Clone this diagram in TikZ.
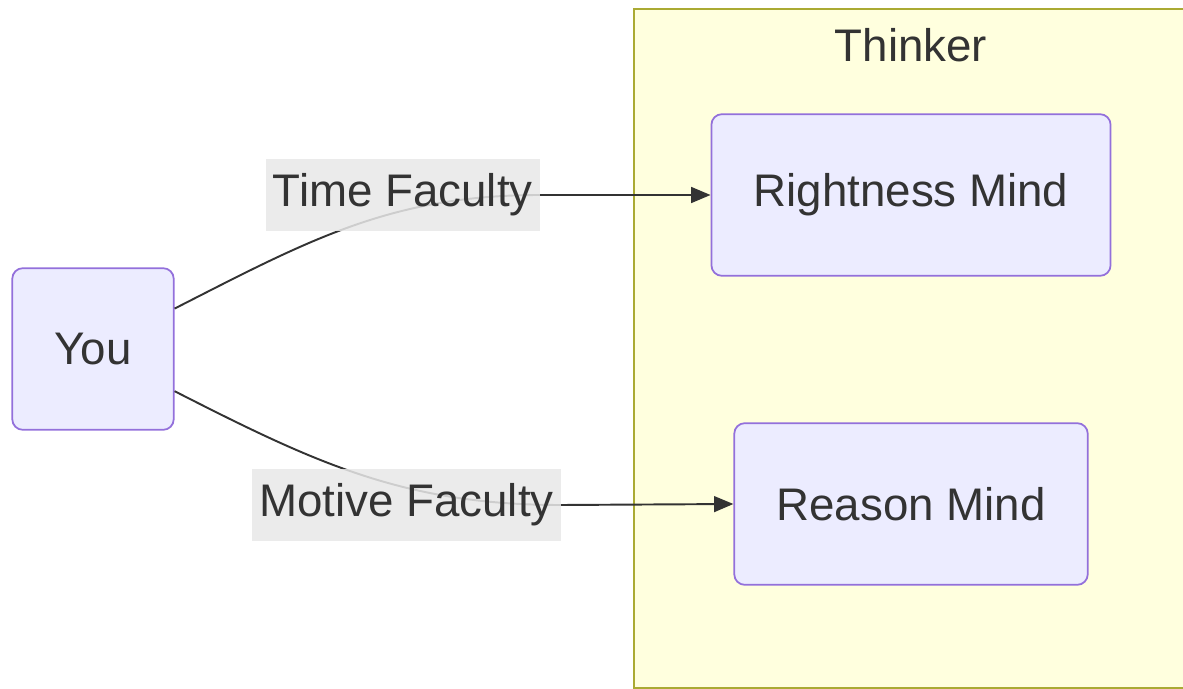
\documentclass[tikz,border=0pt]{standalone}
\usepackage{fontspec}
\setmainfont{Liberation Sans}
\usetikzlibrary{arrows.meta,positioning}

\definecolor{nodefill}{HTML}{ECECFF}
\definecolor{nodeline}{HTML}{9370DB}
\definecolor{groupfill}{HTML}{FFFFDE}
\definecolor{groupline}{HTML}{AAAA33}
\definecolor{labelfill}{HTML}{E8E8E8}
\definecolor{inkgray}{HTML}{333333}

\begin{document}
\begin{tikzpicture}[
    x=0.02cm, y=-0.02cm,
    font=\fontsize{26}{31}\selectfont,
    text=inkgray,
    mind/.style={
        rectangle,
        draw=nodeline,
        line width=1pt,
        fill=nodefill,
        rounded corners=6pt,
        minimum height=92pt,
        inner xsep=24pt
    },
    group/.style={
        draw=groupline, line width=1.2pt, fill=groupfill
    },
    edgelabel/.style={
        fill=labelfill, fill opacity=0.85, text opacity=1,
        inner xsep=4pt, minimum height=41pt
    },
    line/.style={
        draw=inkgray, line width=1.1pt, -{Triangle[length=11pt,width=9pt]}
    }
]
    \useasboundingbox (0,0) rectangle (1183,689);
    \clip (0,0) rectangle (1183,689);

    % Group
    \path [group] (634,9) rectangle (1200,688);
    \node (thinker) at (911,45) {Thinker};

    % Nodes
    \node [mind] (you) at (93,349) {You};
    \node [mind] (right) at (911,195) {Rightness Mind};
    \node [mind] (reason) at (911,504) {Reason Mind};

    \coordinate (tfend) at (540,195);
    \coordinate (mfend) at (561,505);

    % Edges
    \path [line] ([yshift=23pt]you.east) to[out=27,in=180] (tfend) -- (right.west);
    \path [line] ([yshift=-24pt]you.east) to[out=-27,in=180] (mfend) -- (reason.west);

    % Edge labels
    \node [edgelabel, anchor=east] (tflabel) at (tfend) {Time Faculty};
    \node [edgelabel, anchor=east] (mflabel) at (mfend) {Motive Faculty};

\end{tikzpicture}
\end{document}
